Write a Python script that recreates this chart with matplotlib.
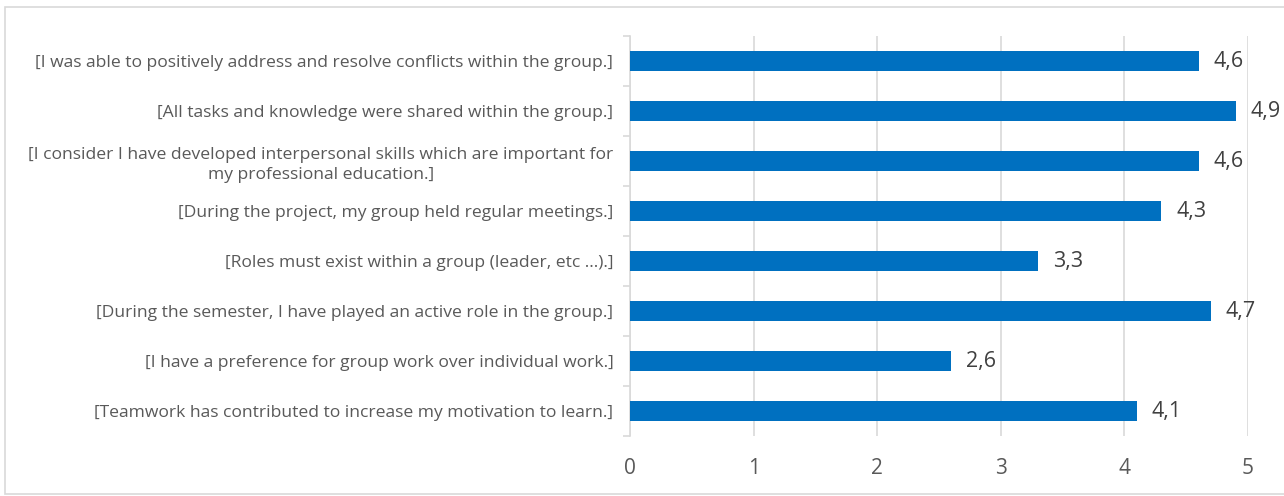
import matplotlib.pyplot as plt
from matplotlib.patches import Rectangle

# data (top to bottom as in the chart)
labels = [
    "[I was able to positively address and resolve conflicts within the group.]",
    "[All tasks and knowledge were shared within the group.]",
    "[I consider I have developed interpersonal skills which are important for\nmy professional education.]",
    "[During the project, my group held regular meetings.]",
    "[Roles must exist within a group (leader, etc ...).]",
    "[During the semester, I have played an active role in the group.]",
    "[I have a preference for group work over individual work.]",
    "[Teamwork has contributed to increase my motivation to learn.]",
]
values = [4.6, 4.9, 4.6, 4.3, 3.3, 4.7, 2.6, 4.1]
xticks = [0, 1, 2, 3, 4, 5]

plt.rcParams['font.family'] = ['Open Sans', 'DejaVu Sans']

fig = plt.figure(figsize=(12.84, 4.96), dpi=100)
ax = fig.add_axes([630 / 1284, 1 - 436 / 496, 618 / 1284, 400 / 496])

pos = list(range(len(values)))[::-1]
ax.barh(pos, values, height=0.4, color='#0070C0', zorder=3)

for y, v in zip(pos, values):
    ax.text(v + 0.12, y, f"{v:.1f}".replace('.', ','), va='center', ha='left',
            fontsize=15.5, color='#404040')

ax.set_xlim(0, 5)
ax.set_ylim(-0.5, len(values) - 0.5)
ax.set_xticks(xticks)
ax.set_xticklabels([str(t) for t in xticks], fontsize=15, color='#595959')
ax.tick_params(axis='x', length=0, pad=16)
ax.grid(axis='x', color='#D9D9D9', linewidth=1.2, zorder=0)

ax.set_yticks(pos)
ax.set_yticklabels(labels, fontsize=12.6, color='#595959', ha='right',
                   multialignment='center', linespacing=1.35)
ax.tick_params(axis='y', length=0, pad=12)
# small separator ticks between categories
ax.set_yticks([p - 0.5 for p in range(len(values) + 1)], minor=True)
ax.tick_params(axis='y', which='minor', length=5, color='#D9D9D9', width=1.2)

for s in ['top', 'right', 'bottom']:
    ax.spines[s].set_visible(False)
ax.spines['left'].set_color('#D9D9D9')
ax.spines['left'].set_linewidth(1.2)

fig.patches.append(Rectangle((5 / 1284, 2 / 496), 1280 / 1284, 487 / 496,
                             transform=fig.transFigure, fill=False,
                             edgecolor='#D9D9D9', linewidth=1.2))

fig.savefig('out.png', dpi=100)
